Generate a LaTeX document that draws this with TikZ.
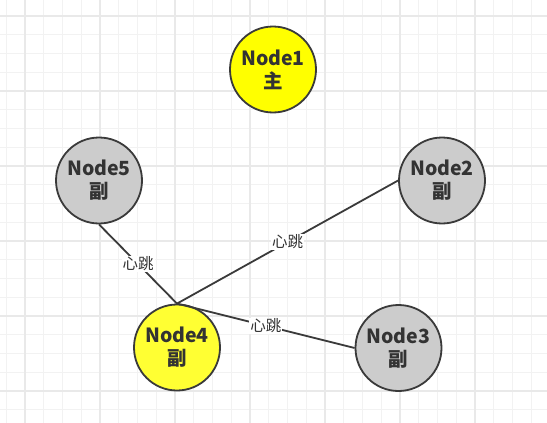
\documentclass[tikz,border=0pt]{standalone}
\usepackage{fontspec}
\setmainfont{Noto Sans CJK SC}
\definecolor{gridminor}{HTML}{F2F2F2}
\definecolor{gridmajor}{HTML}{E9E9E9}
\definecolor{strokec}{HTML}{3A3A3A}
\definecolor{textc}{HTML}{333333}
\definecolor{yellowA}{HTML}{FFFF00}
\definecolor{yellowB}{HTML}{FFFF33}
\definecolor{grayfill}{HTML}{CCCCCC}
\tikzset{
  srv/.style={circle, draw=strokec, line width=1.8pt, minimum size=86pt, inner sep=0pt,
    align=center, text=textc, font=\fontsize{19.5}{23}\selectfont\bfseries},
  link/.style={draw=strokec, line width=1.8pt},
  lbl/.style={fill=white, inner sep=1pt, text=textc, font=\fontsize{15.5}{17}\selectfont}
}
\begin{document}
\begin{tikzpicture}[x=1pt,y=-1pt]
\useasboundingbox (0,0) rectangle (547,423);
\fill[white] (0,0) rectangle (547,423);
\begin{scope}
\clip (0,0) rectangle (547,423);
\foreach \i in {0,...,29} {
  \draw[gridminor, line width=1pt] ({6.25+18.75*\i},0) -- ({6.25+18.75*\i},423);
}
\foreach \i in {0,...,23} {
  \draw[gridminor, line width=1pt] (0,{-2.75+18.75*\i}) -- (547,{-2.75+18.75*\i});
}
\foreach \i in {0,...,7} {
  \draw[gridmajor, line width=1.2pt] ({25+75*\i},0) -- ({25+75*\i},423);
}
\foreach \i in {0,...,5} {
  \draw[gridmajor, line width=1.2pt] (0,{16+75*\i}) -- (547,{16+75*\i});
}
\end{scope}
\node[srv, fill=yellowA] (n1) at (273,69.5) {Node1\\主};
\node[srv, fill=grayfill] (n5) at (99,180.5) {Node5\\副};
\node[srv, fill=grayfill] (n2) at (442,180.5) {Node2\\副};
\node[srv, fill=yellowB] (n4) at (177,347.5) {Node4\\副};
\node[srv, fill=grayfill] (n3) at (398.5,348) {Node3\\副};
\draw[link] (n4.north) -- node[lbl]{心跳} (n5.south);
\draw[link] (n4.north) -- node[lbl]{心跳} (n2.west);
\draw[link] (n4.north) -- node[lbl]{心跳} (n3.west);
\end{tikzpicture}
\end{document}
